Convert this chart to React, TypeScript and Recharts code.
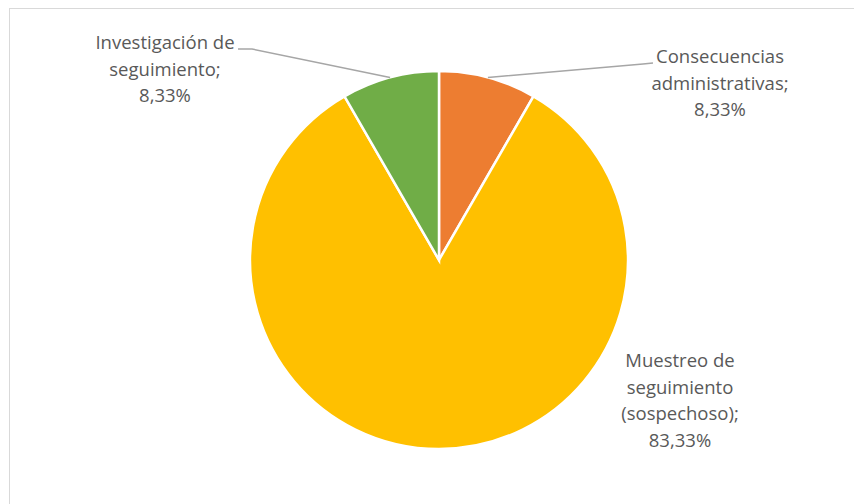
import { PieChart, Pie, Cell } from 'recharts'

const CATEGORIES = [
  'Consecuencias\nadministrativas',
  'Muestreo de\nseguimiento\n(sospechoso)',
  'Investigación de\nseguimiento',
]
const COUNTS = [1, 10, 1]
const COLORS = ['#ED7D31', '#FFC000', '#70AD47']

// where Excel put each data label (text center x, first baseline y) and the elbow of its leader
const LABEL_LAYOUT = [
  { x: 720, y: 63, line: [[643, 64], [653, 63]] },
  { x: 680, y: 367, line: null },
  { x: 165, y: 49, line: [[252, 49], [238, 49]] },
]

const data = CATEGORIES.map((name, i) => ({ name, value: COUNTS[i] }))

const RAD = Math.PI / 180
const LINE_H = 26.5

function renderLabel(props: any) {
  const { cx, cy, midAngle, outerRadius, percent, index, name } = props
  const layout = LABEL_LAYOUT[index]
  const lines: string[] = String(name).split('\n')
  lines[lines.length - 1] += ';'
  lines.push((percent * 100).toFixed(2).replace('.', ',') + '%')

  const sx = cx + outerRadius * Math.cos(-midAngle * RAD)
  const sy = cy + outerRadius * Math.sin(-midAngle * RAD)

  return (
    <g>
      {layout.line && (
        <polyline
          points={[[sx, sy], ...layout.line].map(p => p.join(',')).join(' ')}
          fill="none"
          stroke="#a6a6a6"
          strokeWidth={1.5}
        />
      )}
      <text
        x={layout.x}
        y={layout.y}
        textAnchor="middle"
        fill="#595959"
        style={{ fontFamily: '"Open Sans", sans-serif', fontSize: 18.5 }}
      >
        {lines.map((l, i) => (
          <tspan key={i} x={layout.x} dy={i === 0 ? 0 : LINE_H}>
            {l}
          </tspan>
        ))}
      </text>
    </g>
  )
}

export default function App() {
  return (
    <div
      style={{
        position: 'absolute',
        left: 0,
        top: 0,
        width: 854,
        height: 504,
        overflow: 'hidden',
        background: '#fff',
      }}
    >
      <div
        style={{
          position: 'absolute',
          left: 9,
          top: 8,
          width: 860,
          height: 510,
          border: '1px solid #d9d9d9',
        }}
      />
      <PieChart
        width={854}
        height={504}
        margin={{ top: 0, right: 0, bottom: 0, left: 0 }}
        style={{ position: 'absolute', left: 0, top: 0 }}
      >
        <Pie
          data={data}
          dataKey="value"
          nameKey="name"
          cx={439}
          cy={260}
          outerRadius={189}
          startAngle={90}
          endAngle={-270}
          stroke="#fff"
          strokeWidth={2.5}
          label={renderLabel}
          labelLine={false}
          isAnimationActive={false}
        >
          {data.map((_, i) => (
            <Cell key={i} fill={COLORS[i]} />
          ))}
        </Pie>
      </PieChart>
    </div>
  )
}
